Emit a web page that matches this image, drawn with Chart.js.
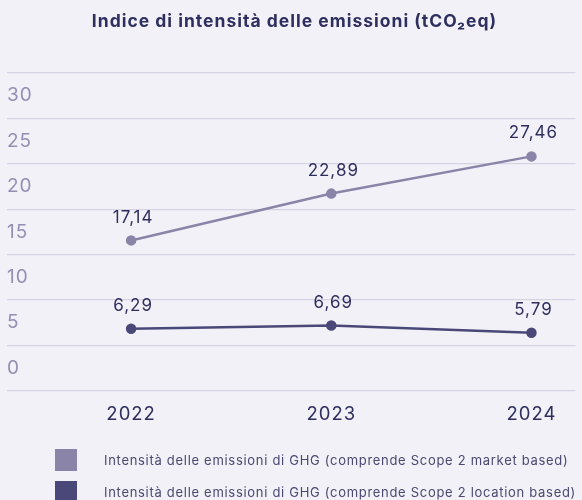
<!DOCTYPE html>
<html>
<head>
<meta charset="utf-8">
<script src="https://cdn.jsdelivr.net/npm/chart.js@4"></script>
<style>
  html, body { margin: 0; padding: 0; background: #f2f1f7; }
  #wrap { position: relative; width: 582px; height: 500px; overflow: hidden; }
  #legend { position: absolute; left: 55px; top: 449px; font: 13px Inter, sans-serif; letter-spacing: 0.7px; color: #4a4870; }
  .item { display: flex; align-items: center; height: 22px; margin-bottom: 10px; }
  .box { width: 22px; height: 22px; margin-right: 27px; flex: none; }
</style>
</head>
<body>
<div id="wrap">
  <canvas id="chart" width="582" height="500"></canvas>
  <div id="legend"></div>
</div>
<script>
const years = [2022, 2023, 2024];
const marketBased = [17.14, 22.89, 27.46];
const locationBased = [6.29, 6.69, 5.79];
const yTicks = [0, 5, 10, 15, 20, 25, 30];
const seriesNames = [
  "Intensità delle emissioni di GHG (comprende Scope 2 market based)",
  "Intensità delle emissioni di GHG (comprende Scope 2 location based)"
];
const seriesColors = ["#8a84a8", "#4a4878"];

const FONT = "Inter";
const textDark = "#2e2f5e";

// the original typeface is wider than Inter, so space the letters a bit
const wideText = {
  id: "wideText",
  beforeDraw(chart) { chart.ctx.letterSpacing = "1px"; }
};

// value labels above each point, Italian decimal comma
const valueLabels = {
  id: "valueLabels",
  afterDatasetsDraw(chart) {
    const ctx = chart.ctx;
    ctx.save();
    ctx.font = "17px " + FONT;
    ctx.fillStyle = textDark;
    ctx.textAlign = "center";
    ctx.textBaseline = "middle";
    chart.data.datasets.forEach((ds, i) => {
      chart.getDatasetMeta(i).data.forEach((pt, j) => {
        const v = ds.data[j].y.toFixed(2).replace(".", ",");
        ctx.fillText(v, pt.x + 2, pt.y - 23);
      });
    });
    ctx.restore();
  }
};

const series = [marketBased, locationBased].map((vals, i) => ({
  label: seriesNames[i],
  data: vals.map((v, j) => ({ x: years[j], y: v })),
  borderColor: seriesColors[i],
  backgroundColor: seriesColors[i],
  borderWidth: 2.5,
  pointRadius: 4,
  pointHoverRadius: 4,
  yAxisID: "yv",
  tension: 0
}));

new Chart(document.getElementById("chart"), {
  type: "line",
  data: { datasets: series },
  options: {
    responsive: false,
    animation: false,
    layout: { padding: { left: 7, right: 0, top: 0, bottom: 61 } },
    plugins: {
      legend: { display: false },
      tooltip: { enabled: false },
      title: {
        display: true,
        text: "Indice di intensità delle emissioni (tCO₂eq)",
        color: textDark,
        font: { family: FONT, size: 17.5, weight: "bold" },
        padding: { top: 11, bottom: 41 }
      }
    },
    scales: {
      x: {
        type: "linear",
        min: 2021.38,
        max: 2024.22,
        afterBuildTicks: s => { s.ticks = years.map(v => ({ value: v })); },
        grid: { display: false, drawTicks: false },
        border: { display: false },
        ticks: {
          color: textDark,
          font: { family: FONT, size: 18.5 },
          padding: 13,
          callback: v => String(v)
        }
      },
      y: {
        min: -2.5,
        max: 32.5,
        afterBuildTicks: s => { s.ticks = yTicks.map(v => ({ value: v })); },
        grid: { offset: true, color: "#d6d4e4", lineWidth: 1.2, drawTicks: false },
        border: { display: false },
        ticks: {
          mirror: true,
          padding: 0,
          color: "#948fb3",
          font: { family: FONT, size: 19 }
        }
      },
      yv: {
        display: false,
        min: -1.33,
        max: 37.7
      }
    }
  },
  plugins: [wideText, valueLabels]
});

const legend = document.getElementById("legend");
seriesNames.forEach((name, i) => {
  const row = document.createElement("div");
  row.className = "item";
  const box = document.createElement("span");
  box.className = "box";
  box.style.background = seriesColors[i];
  const txt = document.createElement("span");
  txt.textContent = name;
  row.appendChild(box);
  row.appendChild(txt);
  legend.appendChild(row);
});
</script>
</body>
</html>
